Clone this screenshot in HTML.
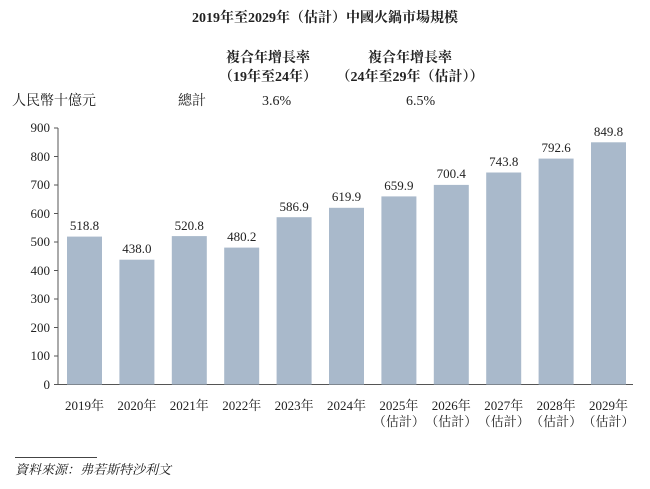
<!DOCTYPE html>
<html><head><meta charset="utf-8"><style>
body{margin:0;background:#fff;}
svg text{font-family:"Liberation Serif","Noto Serif CJK SC","Noto Sans CJK TC",serif;fill:#222;}
</style></head><body>
<svg width="650" height="484" xmlns="http://www.w3.org/2000/svg">
<text x="325" y="22" font-size="14" font-weight="bold" text-anchor="middle">2019年至2029年（估計）中國火鍋市場規模</text>
<text x="268" y="62" font-size="14" font-weight="bold" text-anchor="middle">複合年增長率</text>
<text x="268" y="81" font-size="14" font-weight="bold" text-anchor="middle">（19年至24年）</text>
<text x="410" y="62" font-size="14" font-weight="bold" text-anchor="middle">複合年增長率</text>
<text x="410" y="81" font-size="14" font-weight="bold" text-anchor="middle">（24年至29年（估計））</text>
<text x="12" y="105" font-size="14">人民幣十億元</text>
<text x="178" y="105" font-size="14">總計</text>
<text x="262" y="105" font-size="14">3.6%</text>
<text x="406" y="105" font-size="14">6.5%</text>
<g font-size="13" text-anchor="end">
<text x="50" y="132">900</text><text x="50" y="161">800</text><text x="50" y="189">700</text><text x="50" y="218">600</text><text x="50" y="246">500</text><text x="50" y="275">400</text><text x="50" y="303">300</text><text x="50" y="332">200</text><text x="50" y="360">100</text><text x="50" y="389">0</text>
</g>
<g stroke="#555" stroke-width="1">
<line x1="58" y1="128" x2="58" y2="385"/>
<line x1="54" y1="384.5" x2="633" y2="384.5"/>
<line x1="54" y1="128" x2="58" y2="128"/><line x1="54" y1="156.5" x2="58" y2="156.5"/><line x1="54" y1="185" x2="58" y2="185"/><line x1="54" y1="213.5" x2="58" y2="213.5"/><line x1="54" y1="242" x2="58" y2="242"/><line x1="54" y1="270.5" x2="58" y2="270.5"/><line x1="54" y1="299" x2="58" y2="299"/><line x1="54" y1="327.5" x2="58" y2="327.5"/><line x1="54" y1="356" x2="58" y2="356"/>
</g>
<g fill="#a9b9cb">
<rect x="67" y="236.6" width="35" height="147.9"/>
<rect x="119.4" y="259.7" width="35" height="124.8"/>
<rect x="171.8" y="236.1" width="35" height="148.4"/>
<rect x="224.2" y="247.6" width="35" height="136.9"/>
<rect x="276.6" y="217.2" width="35" height="167.3"/>
<rect x="329" y="207.8" width="35" height="176.7"/>
<rect x="381.4" y="196.4" width="35" height="188.1"/>
<rect x="433.8" y="184.9" width="35" height="199.6"/>
<rect x="486.2" y="172.5" width="35" height="212"/>
<rect x="538.6" y="158.6" width="35" height="225.9"/>
<rect x="591" y="142.3" width="35" height="242.2"/>
</g>
<g font-size="13" text-anchor="middle">
<text x="84.5" y="230">518.8</text><text x="136.9" y="253">438.0</text><text x="189.3" y="230">520.8</text><text x="241.7" y="241">480.2</text><text x="294.1" y="211">586.9</text><text x="346.5" y="201">619.9</text><text x="398.9" y="190">659.9</text><text x="451.3" y="178">700.4</text><text x="503.7" y="166">743.8</text><text x="556.1" y="152">792.6</text><text x="608.5" y="136">849.8</text>
</g>
<g font-size="13" text-anchor="middle">
<text x="84.5" y="410">2019年</text><text x="136.9" y="410">2020年</text><text x="189.3" y="410">2021年</text><text x="241.7" y="410">2022年</text><text x="294.1" y="410">2023年</text><text x="346.5" y="410">2024年</text><text x="398.9" y="410">2025年</text><text x="451.3" y="410">2026年</text><text x="503.7" y="410">2027年</text><text x="556.1" y="410">2028年</text><text x="608.5" y="410">2029年</text>
<text x="398.9" y="426">（估計）</text><text x="451.3" y="426">（估計）</text><text x="503.7" y="426">（估計）</text><text x="556.1" y="426">（估計）</text><text x="608.5" y="426">（估計）</text>
</g>
<line x1="15" y1="457.5" x2="97" y2="457.5" stroke="#444" stroke-width="1"/>
<text x="15" y="474" font-size="13" font-style="italic">資料來源：弗若斯特沙利文</text>
</svg>
</body></html>
